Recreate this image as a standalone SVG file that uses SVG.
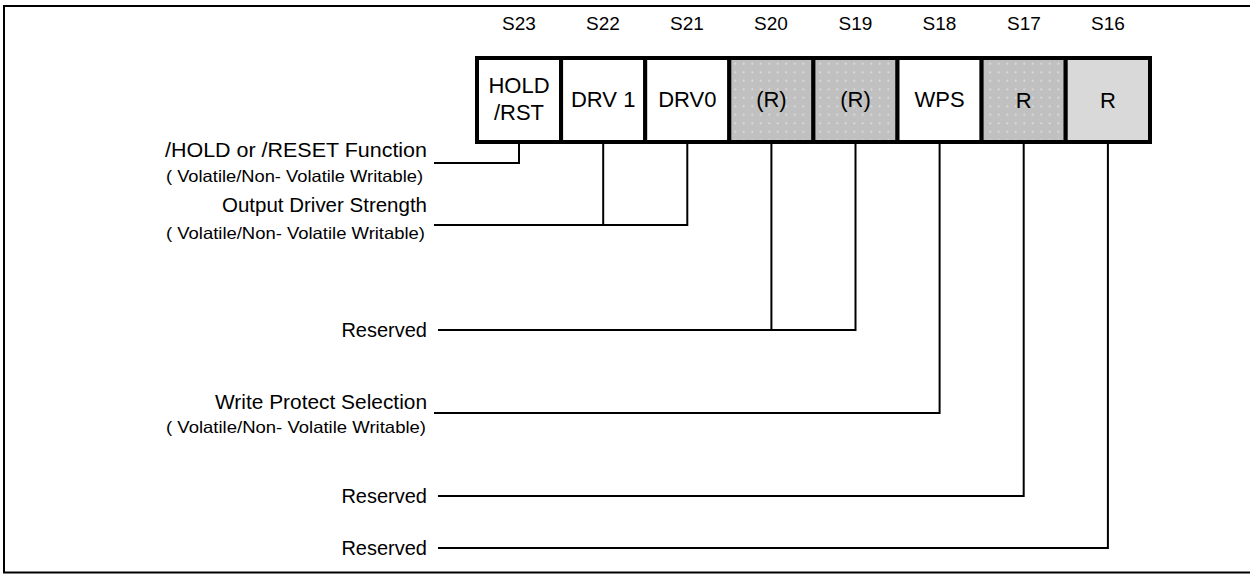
<svg xmlns="http://www.w3.org/2000/svg" width="1250" height="574" viewBox="0 0 1250 574">
<style>
  .hdr{font-family:"Liberation Sans",Arial,sans-serif;font-size:19px;text-anchor:middle;fill:#000}
  .cell{font-family:"Liberation Sans",Arial,sans-serif;font-size:22px;text-anchor:middle;fill:#000}
  .lbl{font-family:"Liberation Sans",Arial,sans-serif;font-size:20px;fill:#000}
  .sub{font-family:"Liberation Sans",Arial,sans-serif;font-size:16.5px;fill:#000}
  .res{font-family:"Liberation Sans",Arial,sans-serif;font-size:20px;fill:#000;text-anchor:end}
  .box{stroke:#000;stroke-width:4}
  .conn{fill:none;stroke:#000;stroke-width:2}
</style>
<defs>
  <pattern id="dots" width="8.5" height="8.5" patternUnits="userSpaceOnUse">
    <rect width="8.5" height="8.5" fill="#c0c0c0"/>
    <circle cx="4.25" cy="4.25" r="0.9" fill="#e6e6e6"/>
  </pattern>
</defs>
<rect x="4" y="6" width="1260" height="566.5" fill="#fff" stroke="#000" stroke-width="2"/>

<g id="headers">
  <text class="hdr" x="519" y="30">S23</text>
  <text class="hdr" x="603" y="30">S22</text>
  <text class="hdr" x="687" y="30">S21</text>
  <text class="hdr" x="771" y="30">S20</text>
  <text class="hdr" x="855.5" y="30">S19</text>
  <text class="hdr" x="939.5" y="30">S18</text>
  <text class="hdr" x="1024" y="30">S17</text>
  <text class="hdr" x="1108" y="30">S16</text>
</g>

<g id="cell-s23">
  <rect class="box" x="477" y="58" width="84.1" height="84" fill="#fff"/>
  <text class="cell" x="519" y="93">HOLD</text>
  <text class="cell" x="519" y="120">/RST</text>
</g>
<g id="cell-s22">
  <rect class="box" x="561.1" y="58" width="84.1" height="84" fill="#fff"/>
  <text class="cell" x="603.2" y="107">DRV 1</text>
</g>
<g id="cell-s21">
  <rect class="box" x="645.2" y="58" width="84.1" height="84" fill="#fff"/>
  <text class="cell" x="687.3" y="107">DRV0</text>
</g>
<g id="cell-s20">
  <rect class="box" x="729.3" y="58" width="84.1" height="84" fill="url(#dots)"/>
  <text class="cell" x="771.4" y="107">(R)</text>
</g>
<g id="cell-s19">
  <rect class="box" x="813.4" y="58" width="84.1" height="84" fill="url(#dots)"/>
  <text class="cell" x="855.5" y="107">(R)</text>
</g>
<g id="cell-s18">
  <rect class="box" x="897.5" y="58" width="84.1" height="84" fill="#fff"/>
  <text class="cell" x="939.6" y="107">WPS</text>
</g>
<g id="cell-s17">
  <rect class="box" x="981.6" y="58" width="84.1" height="84" fill="url(#dots)"/>
  <text class="cell" x="1023.7" y="108">R</text>
</g>
<g id="cell-s16">
  <rect class="box" x="1065.7" y="58" width="84.3" height="84" fill="#d9d9d9"/>
  <text class="cell" x="1107.9" y="108">R</text>
</g>

<g id="connectors">
  <path class="conn" d="M519,144 V163 H434"/>
  <path class="conn" d="M603.2,144 V225 M687.3,144 V225 M434,225 H688.3"/>
  <path class="conn" d="M771.4,144 V330 M855.5,144 V330 M438,330 H856.5"/>
  <path class="conn" d="M939.6,144 V413 H434"/>
  <path class="conn" d="M1023.7,144 V496 H438"/>
  <path class="conn" d="M1107.9,144 V548 H438"/>
</g>

<g id="label-hold">
  <text class="lbl" x="165" y="157" textLength="262" lengthAdjust="spacingAndGlyphs">/HOLD or /RESET Function</text>
  <text class="sub" x="166" y="182" textLength="257" lengthAdjust="spacingAndGlyphs">( Volatile/Non- Volatile Writable)</text>
</g>
<g id="label-drv">
  <text class="lbl" x="222" y="212" textLength="205" lengthAdjust="spacingAndGlyphs">Output Driver Strength</text>
  <text class="sub" x="166" y="239" textLength="259" lengthAdjust="spacingAndGlyphs">( Volatile/Non- Volatile Writable)</text>
</g>
<g id="label-res1">
  <text class="res" x="427" y="337">Reserved</text>
</g>
<g id="label-wps">
  <text class="lbl" x="215" y="409" textLength="212" lengthAdjust="spacingAndGlyphs">Write Protect Selection</text>
  <text class="sub" x="166" y="433" textLength="260" lengthAdjust="spacingAndGlyphs">( Volatile/Non- Volatile Writable)</text>
</g>
<g id="label-res2">
  <text class="res" x="427" y="503">Reserved</text>
</g>
<g id="label-res3">
  <text class="res" x="427" y="555">Reserved</text>
</g>
</svg>
